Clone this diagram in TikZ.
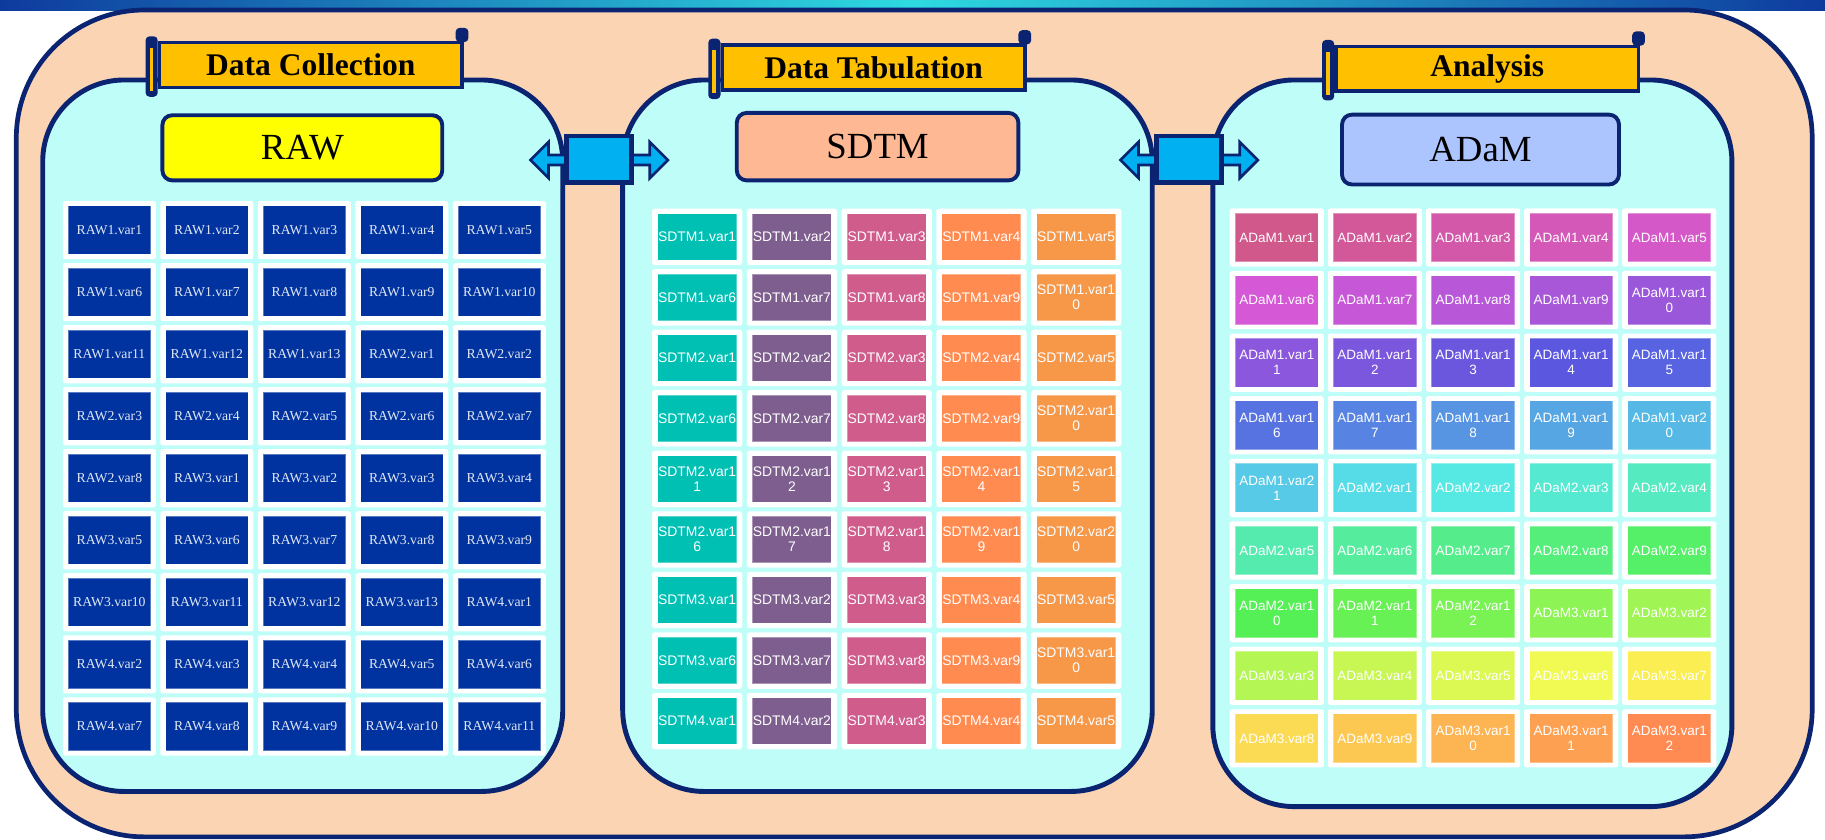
\documentclass[tikz,border=0pt]{standalone}
\usepackage{fontspec}
\setmainfont{Liberation Serif}
\setsansfont{Liberation Sans}
\usepackage{tikz}
\usepackage{xcolor}
\usetikzlibrary{shapes.arrows, positioning, calc}
\definecolor{navyline}{RGB}{10,36,114}
\definecolor{peachbg}{RGB}{251,212,180}
\definecolor{cyanpanel}{RGB}{191,253,249}
\definecolor{tabgold}{RGB}{255,192,0}
\definecolor{rawyellow}{RGB}{255,255,0}
\definecolor{sdtmsalmon}{RGB}{255,184,148}
\definecolor{adamlilac}{RGB}{173,197,255}
\definecolor{linkblue}{RGB}{0,176,240}
\definecolor{barblue}{RGB}{14,58,158}
\definecolor{barcyan}{RGB}{46,218,224}
\definecolor{rawcell}{RGB}{0,51,160}
\definecolor{sdtmcol0}{RGB}{0,192,180}
\definecolor{sdtmcol1}{RGB}{126,94,142}
\definecolor{sdtmcol2}{RGB}{208,92,140}
\definecolor{sdtmcol3}{RGB}{255,139,80}
\definecolor{sdtmcol4}{RGB}{246,152,72}

\begin{document}
\begin{tikzpicture}[x=0.02cm, y=-0.02cm,
    panel/.style={draw=navyline, line width=2.4pt, fill=cyanpanel, rounded corners=1.4cm},
    tabbox/.style={draw=navyline, line width=1.7pt, fill=tabgold, minimum width=5.2cm, minimum height=0.77cm, inner sep=0pt, font=\fontsize{15.4}{17}\selectfont\bfseries},
    tabroll/.style={fill=navyline, rounded corners=2pt},
    headbox/.style={draw=navyline, line width=1.9pt, rounded corners=0.17cm, inner sep=0pt, font=\fontsize{18}{20}\selectfont},
    linkarrow/.style={double arrow, draw=navyline, line width=1.3pt, fill=linkblue, minimum height=2.36cm, double arrow head extend=0.224cm, inner xsep=0pt, inner ysep=0.063cm},
    linkbox/.style={draw=navyline, line width=2.4pt, fill=linkblue, minimum width=1.12cm, minimum height=0.8cm, inner sep=0pt},
    rawtile/.style={fill=white, rounded corners=1.2pt, minimum width=1.6cm, minimum height=1cm, inner sep=0pt},
    rawbox/.style={fill=rawcell, draw=white, draw opacity=0.35, line width=0.5pt, minimum width=1.42cm, minimum height=0.83cm, inner sep=0pt, text=white!88!rawcell, font=\fontsize{6.7}{7.5}\selectfont},
    sdtmtile/.style={fill=white, rounded corners=1.2pt, minimum width=1.55cm, minimum height=0.97cm, inner sep=0pt},
    sdtmbox/.style={draw=white, draw opacity=0.35, line width=0.5pt, minimum width=1.36cm, minimum height=0.8cm, inner sep=0pt, text=white, align=center, font=\sffamily\fontsize{6.8}{7.4}\selectfont},
    adamtile/.style={fill=white, rounded corners=1.2pt, minimum width=1.62cm, minimum height=1cm, inner sep=0pt},
    adambox/.style={draw=white, draw opacity=0.35, line width=0.5pt, minimum width=1.43cm, minimum height=0.84cm, inner sep=0pt, text=white, align=center, font=\sffamily\fontsize{6.6}{7.4}\selectfont}]
    \useasboundingbox (0,0) rectangle (1568,721);

    % Bandeau dégradé en haut
    \shade[left color=barblue, right color=barblue, middle color=barcyan] (0,0) rectangle (1568,9);

    % Cadre général
    \draw[draw=navyline, line width=2.3pt, fill=peachbg, rounded corners=2.2cm] (14,8.6) rectangle (1557,719);

    % === Les trois panneaux ===
    \draw[panel] (36.7,68.7) rectangle (483.5,680);
    \draw[panel] (535,68.7) rectangle (990,680);
    \draw[panel] (1042,68.7) rectangle (1488,693);

    % Liaisons entre panneaux
    \node[linkarrow] (arrowraw) at (514.8,137.5) {};
    \node[linkbox] (linkraw) at (514.9,136.8) {};
    \node[linkarrow] (arrowadam) at (1021.7,137.5) {};
    \node[linkbox] (linkadam) at (1021.8,136.8) {};

    % === Data Collection ===
    \node[tabbox] (collect) at (267,55.9) {Data Collection};
    \fill[tabroll] ($(collect.north west)+(-10.5,-4)$) rectangle ++(10.5,52);
    \fill[tabgold] ($(collect.north west)+(-7,6)$) rectangle ++(3,37);
    \fill[tabroll] ($(collect.north east)+(-7,-11.3)$) rectangle ++(11,12.3);
    \node[headbox, fill=rawyellow, minimum width=4.81cm, minimum height=1.12cm] (rawhead) at (259.75,127) {RAW};

    \foreach \lab [count=\idx from 0] in {RAW1.var1,RAW1.var2,RAW1.var3,RAW1.var4,RAW1.var5,
        RAW1.var6,RAW1.var7,RAW1.var8,RAW1.var9,RAW1.var10,
        RAW1.var11,RAW1.var12,RAW1.var13,RAW2.var1,RAW2.var2,
        RAW2.var3,RAW2.var4,RAW2.var5,RAW2.var6,RAW2.var7,
        RAW2.var8,RAW3.var1,RAW3.var2,RAW3.var3,RAW3.var4,
        RAW3.var5,RAW3.var6,RAW3.var7,RAW3.var8,RAW3.var9,
        RAW3.var10,RAW3.var11,RAW3.var12,RAW3.var13,RAW4.var1,
        RAW4.var2,RAW4.var3,RAW4.var4,RAW4.var5,RAW4.var6,
        RAW4.var7,RAW4.var8,RAW4.var9,RAW4.var10,RAW4.var11}{
        \pgfmathtruncatemacro{\rw}{\idx/5}
        \pgfmathtruncatemacro{\cl}{mod(\idx,5)}
        \node[rawtile] (rawtile-\rw-\cl) at ({94+83.75*\cl},{197.7+53.3*\rw}) {};
        \node[rawbox] (raw-\rw-\cl) at (rawtile-\rw-\cl) {\lab};
    }

    % === Data Tabulation ===
    \node[tabbox] (tabulate) at (750.5,57.9) {Data Tabulation};
    \fill[tabroll] ($(tabulate.north west)+(-10.5,-4)$) rectangle ++(10.5,52);
    \fill[tabgold] ($(tabulate.north west)+(-7,6)$) rectangle ++(3,37);
    \fill[tabroll] ($(tabulate.north east)+(-7,-11.3)$) rectangle ++(11,12.3);
    \node[headbox, fill=sdtmsalmon, minimum width=4.84cm, minimum height=1.16cm] (sdtmhead) at (754,126) {SDTM};

    \foreach \lab [count=\idx from 0] in {SDTM1.var1,SDTM1.var2,SDTM1.var3,SDTM1.var4,SDTM1.var5,
        SDTM1.var6,SDTM1.var7,SDTM1.var8,SDTM1.var9,SDTM1.var1\\0,
        SDTM2.var1,SDTM2.var2,SDTM2.var3,SDTM2.var4,SDTM2.var5,
        SDTM2.var6,SDTM2.var7,SDTM2.var8,SDTM2.var9,SDTM2.var1\\0,
        SDTM2.var1\\1,SDTM2.var1\\2,SDTM2.var1\\3,SDTM2.var1\\4,SDTM2.var1\\5,
        SDTM2.var1\\6,SDTM2.var1\\7,SDTM2.var1\\8,SDTM2.var1\\9,SDTM2.var2\\0,
        SDTM3.var1,SDTM3.var2,SDTM3.var3,SDTM3.var4,SDTM3.var5,
        SDTM3.var6,SDTM3.var7,SDTM3.var8,SDTM3.var9,SDTM3.var1\\0,
        SDTM4.var1,SDTM4.var2,SDTM4.var3,SDTM4.var4,SDTM4.var5}{
        \pgfmathtruncatemacro{\rw}{\idx/5}
        \pgfmathtruncatemacro{\cl}{mod(\idx,5)}
        \node[sdtmtile] (sdtmtile-\rw-\cl) at ({599+81.4*\cl},{203.5+52*\rw}) {};
        \node[sdtmbox, fill=sdtmcol\cl] (sdtm-\rw-\cl) at (sdtmtile-\rw-\cl) {\lab};
    }

    % === Analysis ===
    \node[tabbox] (analyse) at (1277.8,59) {Analysis};
    \fill[tabroll] ($(analyse.north west)+(-10.5,-4)$) rectangle ++(10.5,52);
    \fill[tabgold] ($(analyse.north west)+(-7,6)$) rectangle ++(3,37);
    \fill[tabroll] ($(analyse.north east)+(-7,-11.3)$) rectangle ++(11,12.3);
    \node[headbox, fill=adamlilac, minimum width=4.76cm, minimum height=1.2cm] (adamhead) at (1272,128.5) {ADaM};

    % Dégradé arc-en-ciel des variables ADaM
    \foreach \lab [count=\idx from 0] in {ADaM1.var1,ADaM1.var2,ADaM1.var3,ADaM1.var4,ADaM1.var5,
        ADaM1.var6,ADaM1.var7,ADaM1.var8,ADaM1.var9,ADaM1.var1\\0,
        ADaM1.var1\\1,ADaM1.var1\\2,ADaM1.var1\\3,ADaM1.var1\\4,ADaM1.var1\\5,
        ADaM1.var1\\6,ADaM1.var1\\7,ADaM1.var1\\8,ADaM1.var1\\9,ADaM1.var2\\0,
        ADaM1.var2\\1,ADaM2.var1,ADaM2.var2,ADaM2.var3,ADaM2.var4,
        ADaM2.var5,ADaM2.var6,ADaM2.var7,ADaM2.var8,ADaM2.var9,
        ADaM2.var1\\0,ADaM2.var1\\1,ADaM2.var1\\2,ADaM3.var1,ADaM3.var2,
        ADaM3.var3,ADaM3.var4,ADaM3.var5,ADaM3.var6,ADaM3.var7,
        ADaM3.var8,ADaM3.var9,ADaM3.var1\\0,ADaM3.var1\\1,ADaM3.var1\\2}{
        \pgfmathtruncatemacro{\rw}{\idx/5}
        \pgfmathtruncatemacro{\cl}{mod(\idx,5)}
        \pgfmathsetmacro{\hue}{335-315*\idx/44}
        \pgfmathsetmacro{\sat}{0.58+0.1*\idx/44}
        \pgfmathsetmacro{\bri}{min(0.82+0.18*\idx/44,1)}
        \definecolor{adamhsb}{Hsb}{\hue,\sat,\bri}
        \colorlet{adamcell}[rgb]{adamhsb}
        \node[adamtile] (adamtile-\rw-\cl) at ({1097+84.3*\cl},{204+53.8*\rw}) {};
        \node[adambox, fill=adamcell] (adam-\rw-\cl) at (adamtile-\rw-\cl) {\lab};
    }
\end{tikzpicture}
\end{document}
